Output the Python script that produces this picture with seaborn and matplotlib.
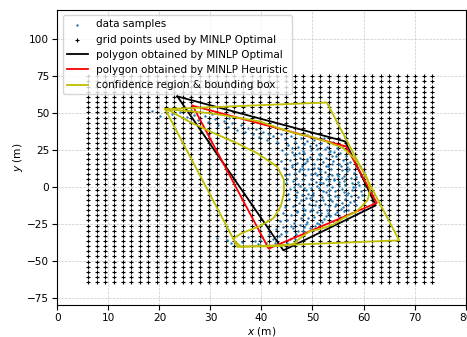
import numpy as np
import seaborn as sns
import matplotlib
matplotlib.use('Agg')
import matplotlib.pyplot as plt

# grid of candidate points (41 x 41)
grid_x = np.linspace(6.0, 73.5, 41)
grid_y = np.linspace(-64.5, 75.0, 41)

# data samples
sample_xy = [
    (18.5, 51.2), (20.1, 47.8), (22.4, 49.5), (24.0, 50.8), (25.3, 47.2), (26.8, 49.0), (27.5, 45.6),
    (28.9, 47.8), (29.6, 43.9), (30.8, 46.3), (31.5, 42.1), (32.7, 44.8), (33.4, 40.6), (34.2, 43.1),
    (35.1, 38.9), (35.9, 41.7), (36.8, 37.2), (37.4, 40.3), (38.3, 35.6), (38.9, 39.1), (39.6, 33.8),
    (40.2, 37.5), (41.0, 32.1), (41.5, 35.9), (23.2, 52.6), (26.1, 52.3), (30.2, 49.6), (33.6, 47.1),
    (42.3, 34.5), (43.1, 30.2), (43.9, 36.1), (44.6, 32.7), (45.2, 28.4), (45.8, 34.9), (46.5, 30.8),
    (47.1, 26.9), (47.7, 33.4), (48.4, 29.1), (49.0, 35.2), (49.6, 27.5), (50.3, 31.6), (50.9, 25.8),
    (51.6, 29.9), (52.2, 33.0), (52.9, 27.2), (53.5, 24.6), (54.1, 30.3), (54.8, 26.1), (55.4, 22.9),
    (56.0, 27.8), (44.0, 25.4), (46.0, 23.8), (48.2, 24.3), (51.3, 22.4), (53.9, 21.0), (57.0, 23.5),
    (44.8, 22.1), (45.5, 18.6), (46.3, 21.4), (47.0, 16.3), (47.6, 19.9), (48.3, 23.0), (48.9, 17.4),
    (49.5, 20.6), (50.2, 15.8), (50.8, 18.9), (51.4, 21.7), (52.1, 16.6), (52.7, 19.5), (53.3, 23.4),
    (54.0, 17.9), (54.6, 20.8), (55.2, 15.4), (55.9, 18.3), (56.5, 21.2), (57.3, 16.7), (58.0, 19.4),
    (58.6, 14.9), (45.9, 15.1), (49.8, 24.8), (53.0, 14.2), (56.8, 13.7), (43.9, 17.5),
    (44.5, 12.8), (45.3, 8.9), (46.0, 13.6), (46.7, 6.4), (47.3, 10.7), (47.9, 14.1), (48.6, 7.8),
    (49.2, 11.9), (49.8, 5.7), (50.5, 9.6), (51.1, 13.2), (51.7, 6.9), (52.4, 10.3), (53.0, 7.5),
    (53.6, 12.4), (54.3, 5.3), (54.9, 9.1), (55.5, 13.9), (56.2, 7.2), (56.8, 10.8), (57.5, 5.9),
    (58.2, 9.7), (58.8, 12.6), (59.5, 7.3), (60.1, 10.2), (45.0, 5.4), (48.1, 12.2), (50.9, 8.1),
    (55.8, 11.3), (59.3, 14.0),
    (44.9, 2.7), (45.6, -1.4), (46.2, 3.9), (46.9, -3.6), (47.5, 0.8), (48.2, 4.5), (48.8, -2.1),
    (49.4, 1.9), (50.1, -4.3), (50.7, 3.2), (51.3, -0.6), (52.0, 2.4), (52.6, -3.1), (53.2, 4.1),
    (53.9, 0.2), (54.5, -2.7), (55.1, 3.6), (55.8, -1.2), (56.4, 1.5), (57.0, -4.0), (57.7, 2.9),
    (58.3, -0.3), (59.0, 3.3), (59.6, -2.5), (60.3, 0.9), (49.7, -1.0), (52.9, 1.1), (56.1, -3.3),
    (46.4, -0.2), (54.2, 4.8),
    (45.4, -8.2), (46.1, -12.6), (46.8, -6.7), (47.4, -10.9), (48.1, -14.3), (48.7, -7.5), (49.3, -11.8),
    (50.0, -5.9), (50.6, -9.4), (51.2, -13.7), (51.9, -7.1), (52.5, -11.2), (53.1, -5.4), (53.8, -9.8),
    (54.4, -13.0), (55.0, -6.5), (55.7, -10.6), (56.3, -8.0), (56.9, -12.3), (57.6, -6.2), (58.2, -9.3),
    (58.9, -7.0), (59.7, -5.6), (44.6, -13.9), (49.9, -14.8), (53.5, -8.4), (47.9, -5.2),
    (44.3, -17.6), (45.0, -22.1), (45.7, -19.3), (46.4, -24.5), (47.0, -16.8), (47.7, -21.0), (48.3, -18.2),
    (49.0, -23.6), (49.6, -16.1), (50.3, -20.4), (50.9, -24.1), (51.6, -17.5), (52.2, -21.8), (52.8, -15.7),
    (53.5, -19.6), (54.1, -23.0), (54.8, -17.0), (55.4, -20.1), (56.1, -16.4), (43.6, -23.3), (57.0, -15.3),
    (48.6, -15.5),
    (38.7, -36.5), (39.4, -38.9), (40.1, -34.2), (40.8, -37.8), (41.5, -31.9), (42.2, -35.6), (42.9, -28.7),
    (43.5, -33.4), (44.2, -26.9), (44.8, -30.8), (45.5, -35.1), (46.1, -27.8), (46.8, -32.2), (47.5, -26.0),
    (48.1, -29.6), (48.8, -25.4), (49.5, -28.1), (50.4, -26.6), (51.2, -25.1), (36.1, -37.0), (37.3, -33.8),
    (33.2, -35.9), (34.0, -38.1), (31.3, -34.4), (41.0, -40.2), (43.8, -38.4),
    # denser core
    (46.6, 9.8), (47.2, 2.2), (47.8, -8.9), (48.5, 16.1), (49.1, -4.9), (49.7, 8.7), (50.4, -12.2),
    (50.9, 1.0), (51.5, 10.9), (52.1, -9.0), (52.7, 5.6), (53.3, -1.9), (53.8, 15.3), (54.4, -6.0),
    (55.0, 7.6), (55.6, -14.6), (56.2, 4.0), (56.7, 16.2), (57.3, -9.9), (57.9, 0.3), (58.5, 6.8),
    (46.9, -16.5), (47.6, 12.5), (48.4, -0.9), (49.0, 19.0), (49.6, -7.8), (50.3, 12.8), (50.8, -17.1),
    (51.5, 3.7), (52.0, -2.8), (52.6, 13.9), (53.2, -13.2), (53.8, 8.3), (54.5, -18.6), (55.1, 0.8),
    (55.7, 6.1), (56.5, -5.7), (57.1, 12.1), (57.8, -2.0), (58.6, -12.1), (59.1, 1.5), (46.0, 26.5),
    (47.4, 23.1), (48.9, 31.0), (50.6, 28.2), (52.4, 25.5), (54.3, 23.9), (45.1, -4.7), (44.7, 8.0),
    (45.8, -26.2), (47.2, -29.9), (49.2, -20.9), (51.9, -23.6), (53.0, -17.8), (55.9, -13.5), (43.9, -31.6),
    (42.6, -38.0), (39.8, -36.0), (45.0, -37.9), (46.5, -35.6), (48.3, -27.4), (52.7, -20.0), (54.7, -11.6),
]
sample_x = [p[0] for p in sample_xy]
sample_y = [p[1] for p in sample_xy]

# polygon vertices (closed)
opt_x = [23.5, 56.4, 62.4, 44.3, 23.5]
opt_y = [61.4, 30.9, -12.5, -43.0, 61.4]

heu_x = [26.5, 56.6, 62.6, 41.4, 26.5]
heu_y = [55.1, 27.5, -10.8, -41.8, 55.1]

box_x = [21.1, 52.8, 67.0, 35.3, 21.1]
box_y = [52.8, 57.3, -36.2, -40.6, 52.8]

conf_x = [21.5, 25.5, 30.0, 33.9, 37.0, 39.7, 43.7, 47.0, 49.5, 53.0, 56.0, 58.0, 59.4, 60.7, 61.3,
          60.8, 58.7, 56.1, 54.1, 51.5, 49.5, 47.6, 46.3, 44.0, 40.0, 36.0, 34.8, 34.5, 36.0, 39.7,
          42.4, 43.8, 44.4, 44.4, 43.0, 39.1, 35.0, 30.6, 26.0, 21.5]
conf_y = [52.6, 51.5, 50.0, 47.8, 46.0, 44.4, 39.5, 36.0, 34.3, 30.5, 26.4, 20.0, 14.0, 6.0, -2.0,
          -9.0, -16.5, -21.0, -25.5, -28.5, -30.0, -34.6, -38.5, -40.0, -40.3, -40.4, -37.0, -35.0, -31.5, -26.5,
          -21.0, -13.0, -4.0, 5.0, 14.0, 23.0, 30.0, 36.6, 44.0, 52.6]

gx, gy = np.meshgrid(grid_x, grid_y)

fig = plt.figure(figsize=(4.67, 3.37), dpi=100)
ax = fig.add_axes([0.1231, 0.095, 0.8737, 0.8754])
ax.set_axisbelow(True)
ax.grid(True, ls='--', lw=0.5, color='#c8c8c8')

sns.scatterplot(x=sample_x, y=sample_y, ax=ax, color='C0', marker='.', s=12, linewidth=0,
                label='data samples', zorder=3)
sns.scatterplot(x=gx.ravel(), y=gy.ravel(), ax=ax, color='k', marker='+', s=8, linewidth=0.8,
                label='grid points used by MINLP Optimal', zorder=2)
sns.lineplot(x=opt_x, y=opt_y, ax=ax, sort=False, estimator=None, color='k', lw=1.3,
             label='polygon obtained by MINLP Optimal', zorder=4)
sns.lineplot(x=heu_x, y=heu_y, ax=ax, sort=False, estimator=None, color='r', lw=1.3,
             label='polygon obtained by MINLP Heuristic', zorder=5)
sns.lineplot(x=box_x, y=box_y, ax=ax, sort=False, estimator=None, color='y', lw=1.3,
             label='confidence region & bounding box', zorder=6)
sns.lineplot(x=conf_x, y=conf_y, ax=ax, sort=False, estimator=None, color='y', lw=1.3, zorder=6)

ax.set_xlim(0, 80)
ax.set_ylim(-80, 120)
ax.set_xticks(np.arange(0, 81, 10))
ax.set_yticks(np.arange(-75, 101, 25))
ax.tick_params(labelsize=7.6, pad=2.5)
ax.set_xlabel('$x$ (m)', fontsize=7.6, labelpad=1.5)
ax.set_ylabel('$y$ (m)', fontsize=7.6, labelpad=1.5)
ax.legend(loc='upper left', fontsize=7.5)

fig.savefig('out.png', dpi=100)
